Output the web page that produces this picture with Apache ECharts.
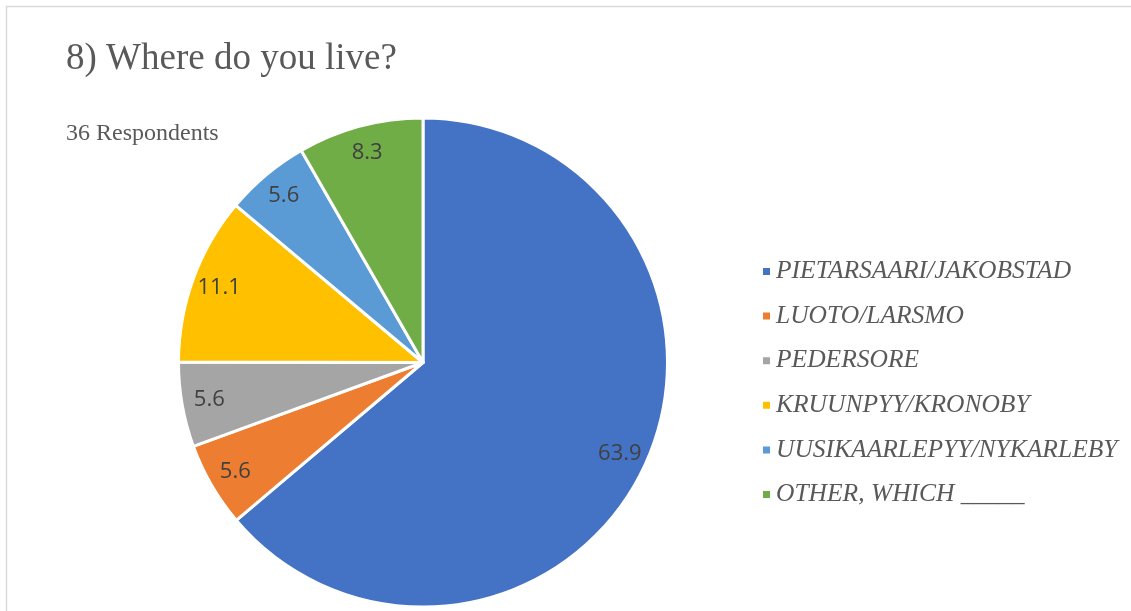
<!DOCTYPE html>
<html>
<head>
<meta charset="utf-8">
<script src="https://cdn.jsdelivr.net/npm/echarts@6/dist/echarts.min.js"></script>
<style>
  html, body { margin: 0; padding: 0; background: #fff; }
  #chart { width: 1131px; height: 611px; }
</style>
</head>
<body>
<div id="chart"></div>
<script>
// Survey question 8: place of residence (share of respondents, %)
const chartTitle = '8) Where do you live?';
const subTitle = '36 Respondents';
const places = [
  'PIETARSAARI/JAKOBSTAD',
  'LUOTO/LARSMO',
  'PEDERSORE',
  'KRUUNPYY/KRONOBY',
  'UUSIKAARLEPYY/NYKARLEBY',
  'OTHER, WHICH _____'
];
const shares = [63.9, 5.6, 5.6, 11.1, 5.6, 8.3];
const sliceColors = ['#4472C4', '#ED7D31', '#A5A5A5', '#FFC000', '#5B9BD5', '#70AD47'];

const pieData = places.map((name, i) => ({ name: name, value: shares[i] }));

const CX = 423, CY = 362.5, R = 244.5;
const LABEL_R = 214; // radial distance of value labels from the centre

const chart = echarts.init(document.getElementById('chart'), null, { renderer: 'canvas' });

chart.setOption({
  animation: false,
  color: sliceColors,
  graphic: [
    {
      type: 'rect',
      silent: true,
      shape: { x: 6.5, y: 6.5, width: 1300, height: 800 },
      style: { fill: 'none', stroke: '#D9D9D9', lineWidth: 1.5 }
    },
    {
      type: 'text',
      left: 66, top: 41,
      silent: true,
      style: {
        text: chartTitle,
        fill: '#595959',
        font: '37px "Liberation Serif", "Times New Roman", serif'
      }
    },
    {
      type: 'text',
      left: 66, top: 122,
      silent: true,
      style: {
        text: subTitle,
        fill: '#595959',
        font: '24px "Liberation Serif", "Times New Roman", serif'
      }
    }
  ],
  legend: {
    orient: 'vertical',
    left: 761,
    top: 258.5,
    padding: 0,
    icon: 'rect',
    itemWidth: 9,
    itemHeight: 9,
    itemGap: 18.6,
    selectedMode: false,
    data: places,
    textStyle: {
      color: '#595959',
      fontFamily: '"Liberation Serif", "Times New Roman", serif',
      fontStyle: 'italic',
      fontSize: 25.5,
      lineHeight: 25
    }
  },
  series: [
    {
      name: 'Residence',
      type: 'pie',
      center: [CX, CY],
      radius: [0, R],
      startAngle: 90,
      clockwise: true,
      silent: true,
      label: { show: false },
      labelLine: { show: false },
      itemStyle: { borderColor: '#ffffff', borderWidth: 3 },
      data: pieData
    },
    {
      // transparent twin pie, used only to place value labels along each slice's bisector
      name: 'Values',
      type: 'pie',
      center: [CX, CY],
      radius: [0, LABEL_R * 2],
      startAngle: 90,
      clockwise: true,
      silent: true,
      z: 5,
      legendHoverLink: false,
      itemStyle: { color: 'rgba(0,0,0,0)', borderWidth: 0 },
      labelLine: { show: false },
      label: {
        show: true,
        position: 'inside',
        formatter: p => p.value.toFixed(1),
        color: '#404040',
        fontFamily: '"Open Sans", "Noto Sans", sans-serif',
        fontSize: 22
      },
      data: pieData.map(d => ({ name: d.name, value: d.value }))
    }
  ]
});
</script>
</body>
</html>
